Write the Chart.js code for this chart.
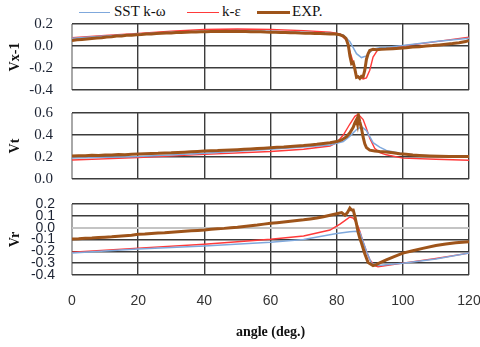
<!DOCTYPE html>
<html>
<head>
<meta charset="utf-8">
<script src="https://cdn.jsdelivr.net/npm/chart.js@4.4.1/dist/chart.umd.min.js"></script>
<style>
    body { margin: 0; background: #fff; width: 480px; height: 347px; overflow: hidden; position: relative; }
    canvas { position: absolute; left: 0; }
    .legend { position: absolute; top: 3px; font-family: "Liberation Serif", serif; font-size: 15px; color: #111; white-space: nowrap; }
    .legend span.line { position: absolute; height: 1px; }
</style>
</head>
<body>
<div class="legend" style="left:79px;width:400px;height:20px;">
    <span class="line" style="left:0px;top:9px;width:31px;background:#7fa8dc;"></span>
    <span style="position:absolute;left:35px;top:0px;">SST k-ω</span>
    <span class="line" style="left:108px;top:9px;width:32px;background:#ff3a3a;"></span>
    <span style="position:absolute;left:143px;top:0px;">k-ε</span>
    <span class="line" style="left:178px;top:8px;width:33px;height:3px;background:#9e541a;"></span>
    <span style="position:absolute;left:213px;top:0px;">EXP.</span>
</div>
<canvas id="chartVx" width="480" height="100" style="top:0px"></canvas>
<canvas id="chartVt" width="480" height="90" style="top:100px"></canvas>
<canvas id="chartVr" width="480" height="157" style="top:190px"></canvas>
<script>
// x axis ticks (angle, deg.)
const angleTicks = [0, 20, 40, 60, 80, 100, 120];

// ---- Vx-1 ----
const vxTicks = [-0.4, -0.2, 0.0, 0.2];
const sstVxAngle = [0, 10, 20, 30, 40, 50, 60, 70, 78, 82, 84, 86, 87.5, 89, 91, 93, 96, 100, 110, 120];
const sstVx = [0.07, 0.09, 0.11, 0.125, 0.135, 0.14, 0.135, 0.125, 0.115, 0.10, 0.04, -0.07, -0.105, -0.09, -0.03, -0.015, -0.01, 0.005, 0.04, 0.07];
const keVxAngle = [0, 10, 20, 30, 40, 50, 60, 70, 78, 81, 83, 85, 86, 88, 89, 90, 91, 92.5, 96, 100, 110, 120];
const keVx = [0.075, 0.095, 0.115, 0.135, 0.15, 0.155, 0.15, 0.14, 0.125, 0.11, 0.05, -0.15, -0.27, -0.30, -0.29, -0.22, -0.1, -0.03, -0.02, 0.0, 0.04, 0.08];
const expVxAngle = [0, 1.5, 3, 4.5, 6, 7.5, 9, 10.5, 12, 13.5, 15, 16.5, 18, 19.5, 21, 22.5, 24, 25.5, 27, 28.5, 30, 31.5, 33, 34.5, 36, 37.5, 39, 40.5, 42, 43.5, 45, 46.5, 48, 49.5, 51, 52.5, 54, 55.5, 57, 58.5, 60, 61.5, 63, 64.5, 66, 67.5, 69, 70.5, 72, 73.5, 75, 76.5, 78, 79.5, 81, 82, 82.8, 83.5, 84, 84.5, 85, 85.5, 86, 86.5, 87, 87.5, 88, 88.5, 89, 89.5, 90, 91, 92, 93.5, 95, 97, 99, 101, 103, 105, 107, 109, 111, 113, 115, 117, 119, 120];
const expVx = [0.050, 0.056, 0.060, 0.064, 0.068, 0.073, 0.076, 0.082, 0.085, 0.090, 0.092, 0.097, 0.098, 0.103, 0.104, 0.108, 0.110, 0.113, 0.115, 0.118, 0.119, 0.122, 0.123, 0.125, 0.127, 0.127, 0.130, 0.130, 0.131, 0.132, 0.131, 0.133, 0.132, 0.133, 0.131, 0.131, 0.130, 0.129, 0.129, 0.127, 0.126, 0.125, 0.123, 0.123, 0.121, 0.120, 0.118, 0.117, 0.116, 0.114, 0.113, 0.111, 0.110, 0.108, 0.102, 0.090, 0.070, 0.010, -0.090, -0.160, -0.150, -0.210, -0.285, -0.280, -0.295, -0.275, -0.280, -0.220, -0.120, -0.070, -0.040, -0.030, -0.034, -0.030, -0.028, -0.024, -0.020, -0.016, -0.010, -0.006, 0.000, 0.004, 0.010, 0.016, 0.022, 0.030, 0.040, 0.050];

// ---- Vt ----
const vtTicks = [0.0, 0.2, 0.4, 0.6];
const sstVtAngle = [0, 20, 40, 60, 70, 78, 82, 84, 86, 87.5, 89, 91, 93, 95, 100, 105, 110, 120];
const sstVt = [0.19, 0.205, 0.235, 0.27, 0.29, 0.31, 0.34, 0.39, 0.45, 0.475, 0.44, 0.33, 0.29, 0.26, 0.23, 0.215, 0.21, 0.2];
const keVtAngle = [0, 20, 40, 60, 70, 78, 80, 82, 84, 85.5, 86.5, 88, 89, 90, 91.5, 93, 95, 100, 110, 120];
const keVt = [0.173, 0.194, 0.224, 0.25, 0.27, 0.3, 0.33, 0.4, 0.5, 0.57, 0.59, 0.54, 0.46, 0.37, 0.28, 0.24, 0.22, 0.19, 0.18, 0.17];
const expVtAngle = [0, 2, 4, 6, 8, 10, 12, 14, 16, 18, 20, 22, 24, 26, 28, 30, 32, 34, 36, 38, 40, 42, 44, 46, 48, 50, 52, 54, 56, 58, 60, 62, 64, 66, 68, 70, 72, 74, 76, 78, 80, 81.5, 83, 84, 85, 85.5, 86, 86.3, 86.6, 87, 87.5, 88, 88.5, 89, 90, 91.5, 93, 95, 97, 99, 101, 103, 105, 108, 111, 114, 117, 120];
const expVt = [0.210, 0.212, 0.211, 0.215, 0.214, 0.218, 0.219, 0.222, 0.221, 0.226, 0.227, 0.229, 0.232, 0.233, 0.237, 0.238, 0.242, 0.244, 0.247, 0.250, 0.254, 0.256, 0.258, 0.262, 0.264, 0.267, 0.270, 0.273, 0.277, 0.280, 0.284, 0.288, 0.291, 0.296, 0.300, 0.304, 0.310, 0.315, 0.322, 0.330, 0.340, 0.355, 0.385, 0.420, 0.470, 0.510, 0.540, 0.500, 0.575, 0.520, 0.460, 0.380, 0.320, 0.285, 0.262, 0.255, 0.250, 0.245, 0.238, 0.230, 0.224, 0.218, 0.214, 0.210, 0.207, 0.205, 0.204, 0.205];

// ---- Vr ----
const vrTicks = [-0.4, -0.3, -0.2, -0.1, 0.0, 0.1, 0.2];
const sstVrAngle = [0, 20, 40, 60, 70, 80, 84, 86, 87, 88, 89, 90.5, 92.5, 100, 110, 120];
const sstVr = [-0.215, -0.18, -0.155, -0.123, -0.1, -0.05, -0.035, -0.03, -0.04, -0.12, -0.2, -0.3, -0.32, -0.30, -0.265, -0.215];
const keVrAngle = [0, 20, 40, 60, 70, 78, 81, 83, 84, 85, 86, 87, 88, 89, 90, 91.5, 92.5, 95, 100, 110, 120];
const keVr = [-0.207, -0.173, -0.14, -0.098, -0.07, -0.02, 0.03, 0.07, 0.09, 0.08, 0.04, -0.03, -0.12, -0.2, -0.27, -0.32, -0.33, -0.32, -0.30, -0.26, -0.215];
const expVrAngle = [0, 2, 4, 6, 8, 10, 12, 14, 16, 18, 20, 22, 24, 26, 28, 30, 32, 34, 36, 38, 40, 42, 44, 46, 48, 50, 52, 54, 56, 58, 60, 62, 64, 66, 68, 70, 72, 74, 76, 78, 80, 81.5, 82.5, 83.2, 84, 84.5, 85, 85.5, 86, 86.5, 87, 87.5, 88.5, 89.5, 91, 92, 93, 95, 97, 100, 103, 106, 110, 113, 116, 120];
const expVr = [-0.096, -0.094, -0.090, -0.088, -0.084, -0.080, -0.077, -0.072, -0.068, -0.064, -0.056, -0.054, -0.050, -0.046, -0.043, -0.038, -0.035, -0.031, -0.027, -0.024, -0.020, -0.014, -0.010, -0.006, 0.000, 0.004, 0.010, 0.016, 0.022, 0.030, 0.037, 0.042, 0.048, 0.055, 0.060, 0.066, 0.074, 0.082, 0.092, 0.105, 0.118, 0.128, 0.105, 0.125, 0.165, 0.150, 0.150, 0.095, 0.030, -0.040, -0.090, -0.130, -0.220, -0.295, -0.320, -0.312, -0.298, -0.272, -0.248, -0.215, -0.195, -0.175, -0.150, -0.138, -0.128, -0.118];

const serif = "'Liberation Serif', serif";
const sans = "'Liberation Sans', sans-serif";

function pairs(xs, ys) {
    return xs.map((x, i) => ({ x: x, y: ys[i] }));
}

function makeDatasets(sA, sV, kA, kV, eA, eV) {
    // EXP first so it is drawn on top
    return [
        { label: "EXP.", data: pairs(eA, eV), borderColor: "#9e541a", borderWidth: 3, pointRadius: 0, tension: 0 },
        { label: "SST k-ω", data: pairs(sA, sV), borderColor: "#7fa8dc", borderWidth: 1.5, pointRadius: 0, tension: 0 },
        { label: "k-ε", data: pairs(kA, kV), borderColor: "#ff3a3a", borderWidth: 1.4, pointRadius: 0, tension: 0 }
    ];
}

function makeChart(id, datasets, cfg) {
    let ctx = document.getElementById(id).getContext("2d");
    return new Chart(ctx, {
        type: "line",
        data: { datasets: datasets },
        options: {
            responsive: false,
            animation: false,
            layout: { padding: { top: cfg.padTop, bottom: cfg.padBottom, left: 0, right: 11 } },
            plugins: { legend: { display: false }, tooltip: { enabled: false } },
            scales: {
                x: {
                    type: "linear",
                    min: 0,
                    max: 120,
                    afterBuildTicks: s => { s.ticks = angleTicks.map(v => ({ value: v })); },
                    // fixed axis height, and no extra label padding in the layout
                    afterFit: s => { s.height = cfg.xHeight; s.paddingLeft = 0; s.paddingRight = 0; },
                    border: { display: false },
                    grid: {
                        drawTicks: false,
                        color: c => c.tick && c.tick.value === 0 ? "#a8a8a8" : "#3c3c3c",
                        lineWidth: c => c.tick && c.tick.value === 0 ? 2 : 1.4
                    },
                    ticks: {
                        display: cfg.showX,
                        autoSkip: false,
                        maxRotation: 0,
                        padding: 18,
                        color: "#333",
                        font: { family: sans, size: 14 }
                    },
                    title: {
                        display: cfg.showX,
                        text: "angle (deg.)",
                        color: "#111",
                        padding: { top: 0, bottom: 6 },
                        font: { family: serif, size: 14, weight: "bold" }
                    }
                },
                y: {
                    min: cfg.min,
                    max: cfg.max,
                    afterBuildTicks: s => { s.ticks = cfg.ticks.map(v => ({ value: v })); },
                    afterFit: s => { s.width = 72; s.paddingTop = 0; s.paddingBottom = 0; },
                    border: { display: false },
                    grid: {
                        drawTicks: false,
                        color: c => c.tick && c.tick.value === 0 && cfg.greyZero ? "#c4c4c4" : "#3c3c3c",
                        lineWidth: c => c.tick && c.tick.value === 0 && cfg.greyZero ? 2 : 1.4
                    },
                    ticks: {
                        autoSkip: false,
                        padding: cfg.tickPad,
                        color: "#1c2333",
                        font: { family: cfg.tickFont, size: cfg.tickSize },
                        callback: v => (Math.abs(v) < 1e-9 ? 0 : v).toFixed(1)
                    },
                    title: {
                        display: true,
                        text: cfg.title,
                        color: "#111",
                        padding: { top: 7, bottom: 0 },
                        font: { family: serif, size: 14, weight: "bold" }
                    }
                }
            }
        }
    });
}

makeChart("chartVx", makeDatasets(sstVxAngle, sstVx, keVxAngle, keVx, expVxAngle, expVx), {
    padTop: 24, padBottom: 10, xHeight: 0, showX: false,
    min: -0.4, max: 0.2, ticks: vxTicks, title: "Vx-1",
    tickFont: serif, tickSize: 15, tickPad: 19, greyZero: false
});

makeChart("chartVt", makeDatasets(sstVtAngle, sstVt, keVtAngle, keVt, expVtAngle, expVt), {
    padTop: 13, padBottom: 11, xHeight: 0, showX: false,
    min: 0, max: 0.6, ticks: vtTicks, title: "Vt",
    tickFont: serif, tickSize: 15, tickPad: 19, greyZero: false
});

makeChart("chartVr", makeDatasets(sstVrAngle, sstVr, keVrAngle, keVr, expVrAngle, expVr), {
    padTop: 14, padBottom: 0, xHeight: 72, showX: true,
    min: -0.4, max: 0.2, ticks: vrTicks, title: "Vr",
    tickFont: sans, tickSize: 14, tickPad: 17, greyZero: true
});
</script>
</body>
</html>
